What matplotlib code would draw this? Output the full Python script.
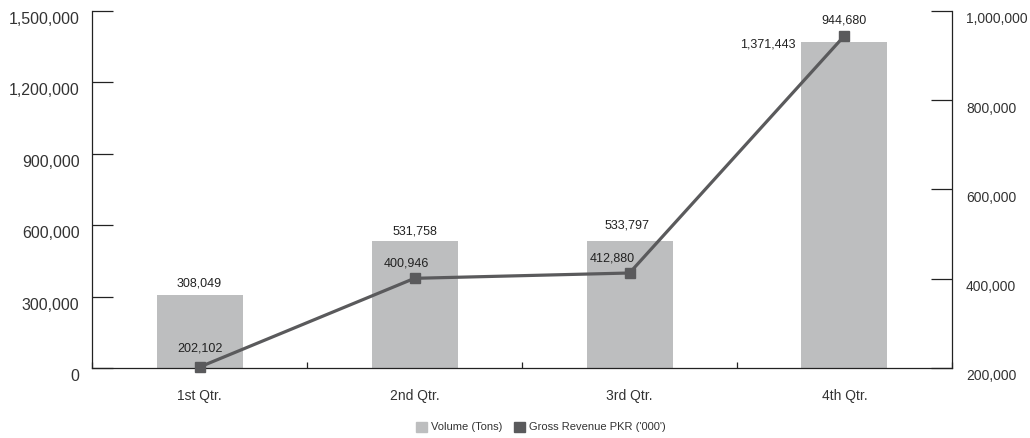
import matplotlib
matplotlib.use("Agg")
import matplotlib.pyplot as plt
import matplotlib.ticker as mticker
import matplotlib.transforms as mtransforms
from matplotlib.patches import Patch

plt.rcParams.update({
    "font.family": ["Liberation Sans", "DejaVu Sans"],
    "font.size": 9,
    "text.color": "#333333",
})

# datos
quarters = ["1st Qtr.", "2nd Qtr.", "3rd Qtr.", "4th Qtr."]
volume = [308049, 531758, 533797, 1371443]
revenue = [202102, 400946, 412880, 944680]

GRIS_BARRA = "#bdbebf"
GRIS_LINEA = "#5a5a5c"
TXT = "#333333"

DPI = 100
fig = plt.figure(figsize=(10.30, 4.38), dpi=DPI)
ax = fig.add_axes([92 / 1030, 1 - 368 / 438, 860 / 1030, 357 / 438])
ax2 = ax.twinx()

x = list(range(len(quarters)))
bars = ax.bar(x, volume, width=0.4, color=GRIS_BARRA, zorder=2)
ax2.plot(x, revenue, color=GRIS_LINEA, lw=2.3, marker="s", markersize=7.5,
         zorder=3, clip_on=False)

ax.set_xlim(-0.5, 3.5)
ax.set_ylim(0, 1500000)
ax2.set_ylim(200000, 1000000)
ax.set_yticks(range(0, 1500001, 300000))
ax2.set_yticks(range(200000, 1000001, 200000))
fmt = mticker.FuncFormatter(lambda v, _: f"{v:,.0f}")
ax.yaxis.set_major_formatter(fmt)
ax2.yaxis.set_major_formatter(fmt)

ax.set_xticks(x)
ax.set_xticklabels(quarters)
ax.set_xticks([-0.5, 0.5, 1.5, 2.5, 3.5], minor=True)

# ejes y estilos
for a in (ax, ax2):
    a.spines["top"].set_visible(False)
    for s in a.spines.values():
        s.set_color("#222222")
        s.set_linewidth(0.9)
ax.spines["right"].set_visible(False)
ax2.spines["left"].set_visible(False)
ax2.spines["bottom"].set_visible(False)

ax.tick_params(axis="y", direction="in", length=15, width=0.9, color="#222222",
               labelsize=11.5, labelcolor=TXT, pad=9)
ax2.tick_params(axis="y", direction="in", length=15, width=0.9, color="#222222",
                labelsize=10, labelcolor=TXT, pad=10)
ax.tick_params(axis="x", which="major", length=0, labelsize=10,
               labelcolor=TXT, pad=15)
ax.tick_params(axis="x", which="minor", direction="in", length=4, width=0.9,
               color="#222222")

# etiquetas de ticks un poco más abajo que la marca
off = mtransforms.ScaledTranslation(0, -7 / DPI, fig.dpi_scale_trans)
for lab in ax.get_yticklabels() + ax2.get_yticklabels():
    lab.set_transform(lab.get_transform() + off)

# etiquetas de valores
bar_off = [(0, 11), (0, 10), (-2, 15), (-77, -3)]
for xi, v, (dx, dy) in zip(x, volume, bar_off):
    ax.annotate(f"{v:,}", (xi, v), xytext=(dx * 0.72, dy * 0.72),
                textcoords="offset points", ha="center", va="center",
                fontsize=9, color="#222222", zorder=5)

line_off = [(0, 19), (-8, 15), (-17, 15), (0, 15)]
for xi, v, (dx, dy) in zip(x, revenue, line_off):
    ax2.annotate(f"{v:,}", (xi, v), xytext=(dx * 0.72, dy * 0.72),
                 textcoords="offset points", ha="center", va="center",
                 fontsize=9, color="#222222", zorder=5)

handles = [Patch(color=GRIS_BARRA, label="Volume (Tons)"),
           Patch(color=GRIS_LINEA, label="Gross Revenue PKR ('000')")]
fig.legend(handles=handles, loc="center", bbox_to_anchor=(0.525, 1 - 427 / 438),
           ncol=2, frameon=False, fontsize=8, handlelength=1.0,
           handleheight=1.0, handletextpad=0.4, columnspacing=1.0)

fig.savefig("out.png", dpi=DPI)
